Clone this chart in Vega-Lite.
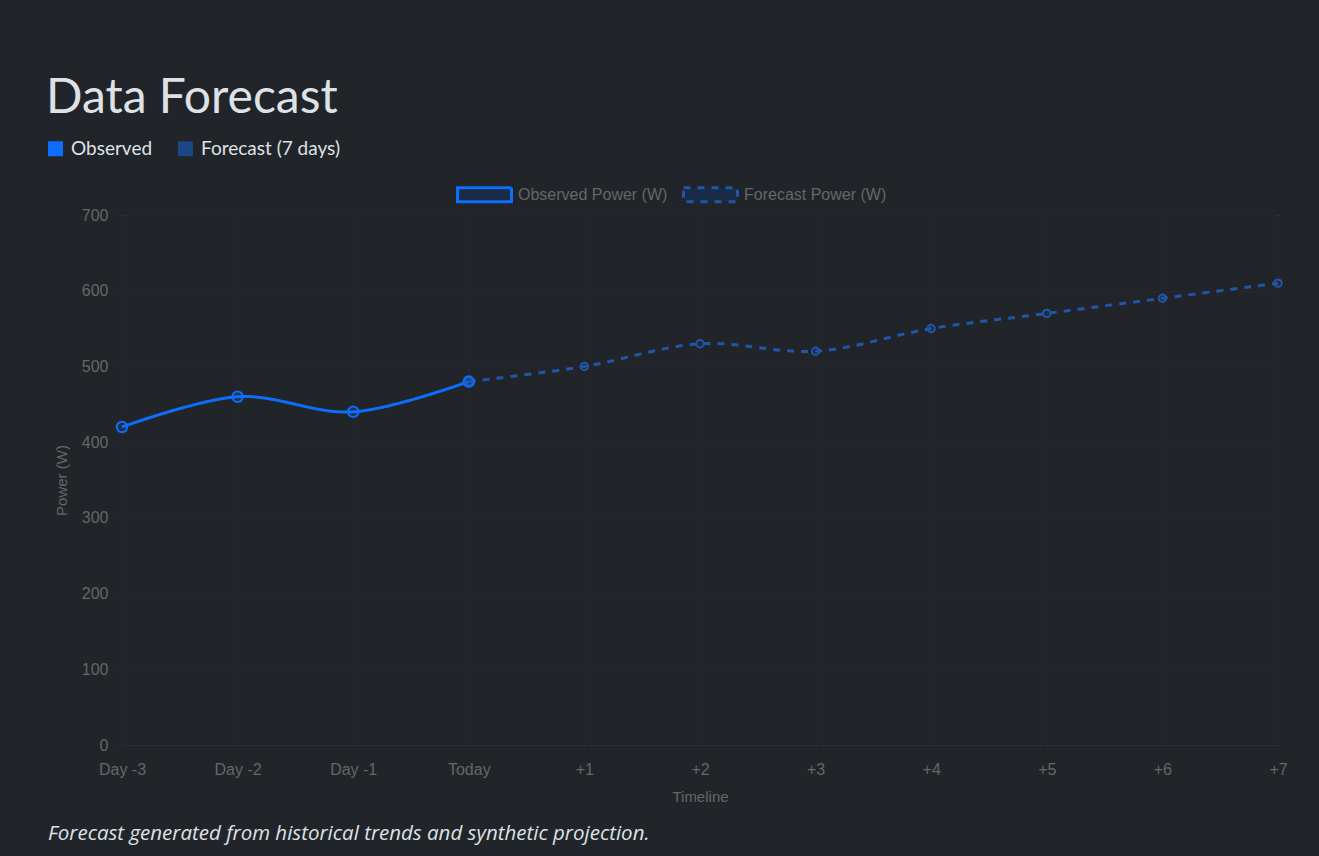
{
  "$schema": "https://vega.github.io/schema/vega-lite/v6.json",
  "background": "#212529",
  "autosize": {"type": "none"},
  "padding": {"left": 122, "top": 215, "right": 41, "bottom": 111},
  "width": 1156,
  "height": 530,
  "title": {
    "text": "Forecast generated from historical trends and synthetic projection.",
    "orient": "bottom",
    "anchor": "start",
    "frame": "group",
    "dx": -74,
    "offset": 20,
    "font": "Open Sans",
    "fontStyle": "italic",
    "fontWeight": "normal",
    "fontSize": 20.5,
    "color": "#dee2e6"
  },
  "data": {
    "values": [
      {"label": "Day -3", "series": "Observed Power (W)", "group": "Observed", "power": 420},
      {"label": "Day -2", "series": "Observed Power (W)", "group": "Observed", "power": 460},
      {"label": "Day -1", "series": "Observed Power (W)", "group": "Observed", "power": 440},
      {"label": "Today", "series": "Observed Power (W)", "group": "Observed", "power": 480},
      {"label": "Today", "series": "Forecast Power (W)", "group": "Forecast (7 days)", "power": 480},
      {"label": "+1", "series": "Forecast Power (W)", "group": "Forecast (7 days)", "power": 500},
      {"label": "+2", "series": "Forecast Power (W)", "group": "Forecast (7 days)", "power": 530},
      {"label": "+3", "series": "Forecast Power (W)", "group": "Forecast (7 days)", "power": 520},
      {"label": "+4", "series": "Forecast Power (W)", "group": "Forecast (7 days)", "power": 550},
      {"label": "+5", "series": "Forecast Power (W)", "group": "Forecast (7 days)", "power": 570},
      {"label": "+6", "series": "Forecast Power (W)", "group": "Forecast (7 days)", "power": 590},
      {"label": "+7", "series": "Forecast Power (W)", "group": "Forecast (7 days)", "power": 610}
    ]
  },
  "encoding": {
    "x": {
      "field": "label",
      "type": "ordinal",
      "sort": ["Day -3", "Day -2", "Day -1", "Today", "+1", "+2", "+3", "+4", "+5", "+6", "+7"],
      "scale": {"type": "point", "padding": 0},
      "axis": {
        "title": "Timeline",
        "labelAngle": 0,
        "labelFont": "Liberation Sans",
        "labelFontSize": 16,
        "labelColor": "#666666",
        "labelPadding": 6,
        "tickSize": 10,
        "tickColor": "#25292d",
        "domainColor": "#2a2d32",
        "grid": true,
        "gridColor": "#24282c",
        "titleFont": "Liberation Sans",
        "titleFontSize": 15,
        "titleFontWeight": "normal",
        "titleColor": "#666666",
        "titlePadding": 12
      }
    },
    "y": {
      "field": "power",
      "type": "quantitative",
      "scale": {"domain": [0, 700], "nice": false, "zero": true},
      "axis": {
        "title": "Power (W)",
        "tickCount": 7,
        "labelFont": "Liberation Sans",
        "labelFontSize": 16,
        "labelColor": "#666666",
        "labelPadding": 4,
        "tickSize": 10,
        "tickColor": "#25292d",
        "domain": false,
        "grid": true,
        "gridColor": "#24282c",
        "titleFont": "Liberation Sans",
        "titleFontSize": 15,
        "titleFontWeight": "normal",
        "titleColor": "#666666",
        "titlePadding": 12
      }
    }
  },
  "layer": [
    {
      "mark": {"type": "line", "interpolate": "cardinal", "tension": 0, "strokeWidth": 3},
      "encoding": {
        "color": {
          "field": "series",
          "type": "nominal",
          "scale": {"domain": ["Observed Power (W)", "Forecast Power (W)"], "range": ["#0d6efd", "#1f56aa"]},
          "legend": {
            "orient": "none",
            "legendX": 334,
            "legendY": -49,
            "direction": "horizontal",
            "title": null,
            "symbolType": "M-1,-0.26H1V0.26H-1Z",
            "symbolSize": 2916,
            "symbolStrokeWidth": 3,
            "labelFont": "Liberation Sans",
            "labelFontSize": 16,
            "labelColor": "#666666",
            "labelOffset": 5,
            "columnPadding": 9,
            "encode": {"symbols": {"update": {"fill": {"value": "#1a2b48"}, "fillOpacity": {"value": 1}}}}
          }
        },
        "strokeDash": {
          "field": "series",
          "type": "nominal",
          "scale": {"domain": ["Observed Power (W)", "Forecast Power (W)"], "range": [[1, 0], [7, 7]]},
          "legend": {
            "orient": "none",
            "legendX": 334,
            "legendY": -49,
            "direction": "horizontal",
            "title": null,
            "symbolType": "M-1,-0.26H1V0.26H-1Z",
            "symbolSize": 2916,
            "symbolStrokeWidth": 3,
            "labelFont": "Liberation Sans",
            "labelFontSize": 16,
            "labelColor": "#666666",
            "labelOffset": 5,
            "columnPadding": 9
          }
        }
      }
    },
    {
      "transform": [{"filter": "datum.series === 'Forecast Power (W)'"}],
      "mark": {"type": "point", "filled": false, "strokeWidth": 2, "fillOpacity": 0.15, "stroke": "#1f56aa", "size": 55},
      "encoding": {
        "fill": {
          "field": "group",
          "type": "nominal",
          "scale": {"domain": ["Observed", "Forecast (7 days)"], "range": ["#0d6efd", "#1c4685"]},
          "legend": {
            "orient": "none",
            "legendX": -76,
            "legendY": -140,
            "direction": "horizontal",
            "title": "Data Forecast",
            "titleLimit": 800,
            "titleFont": "Lato",
            "titleFontSize": 48,
            "titleFontWeight": "normal",
            "titleColor": "#dee2e6",
            "titlePadding": 16,
            "symbolType": "square",
            "symbolSize": 225,
            "symbolStrokeWidth": 0,
            "labelFont": "Lato",
            "labelFontSize": 19,
            "labelColor": "#dee2e6",
            "labelOffset": 6,
            "columnPadding": 23,
            "encode": {"symbols": {"update": {"fillOpacity": {"value": 1}, "strokeWidth": {"value": 0}, "opacity": {"value": 1}}}}
          }
        }
      }
    },
    {
      "transform": [{"filter": "datum.series === 'Observed Power (W)'"}],
      "mark": {"type": "point", "filled": false, "strokeWidth": 2, "fillOpacity": 0.15, "stroke": "#0d6efd", "size": 110},
      "encoding": {
        "fill": {
          "field": "group",
          "type": "nominal",
          "scale": {"domain": ["Observed", "Forecast (7 days)"], "range": ["#0d6efd", "#1c4685"]}
        }
      }
    }
  ]
}
